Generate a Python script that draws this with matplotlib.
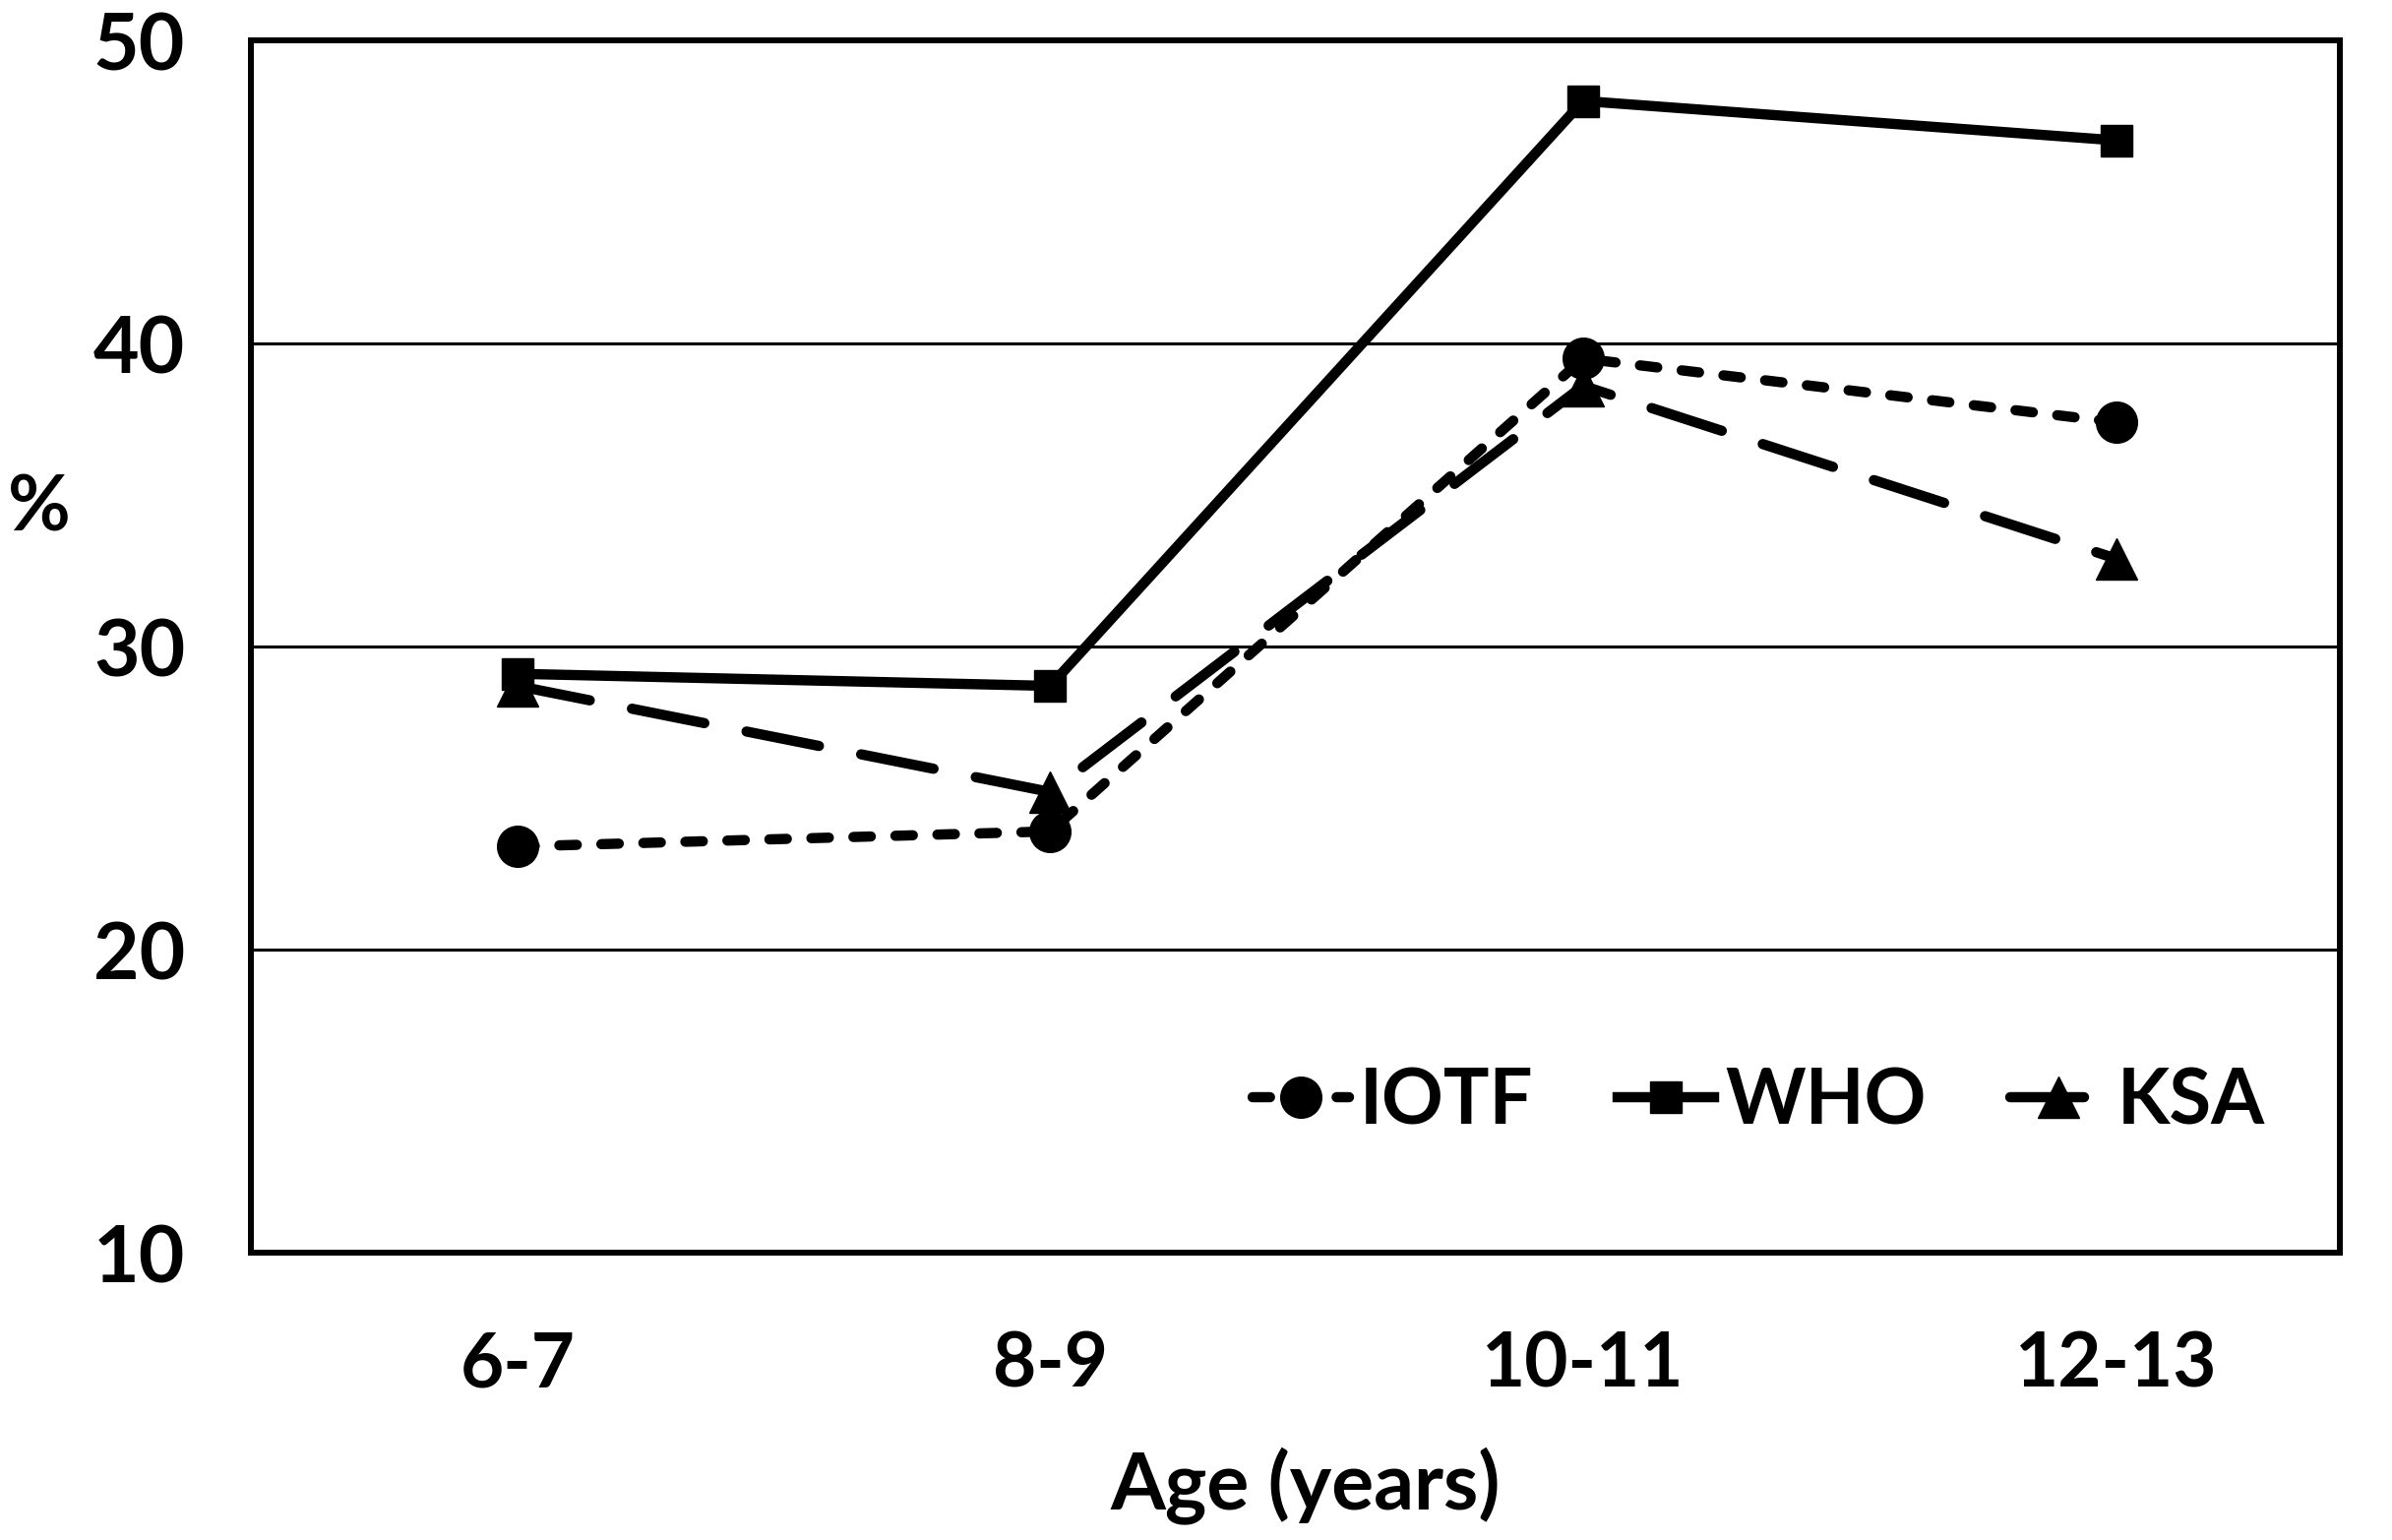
import matplotlib
matplotlib.use("Agg")
import matplotlib.pyplot as plt

categories = ["6-7", "8-9", "10-11", "12-13"]
iotf = [23.4, 23.9, 39.5, 37.4]
who = [29.1, 28.7, 48.0, 46.7]
ksa = [28.7, 25.2, 38.6, 32.9]
yticks = [10, 20, 30, 40, 50]

plt.rcParams['font.family'] = ['Lato', 'DejaVu Sans']
plt.rcParams['font.weight'] = 'bold'

W, H = 2431, 1565
fig = plt.figure(figsize=(W / 100, H / 100), dpi=100)
ax = fig.add_axes([255 / W, 1 - 1273 / H, (2378 - 255) / W, (1273 - 41) / H])

x = list(range(len(categories)))
lw = 7.5
ax.plot(x, iotf, color='black', lw=lw, linestyle=(0, (1.7, 2.4)), marker='o', markersize=30,
        label='IOTF', dash_capstyle='round', zorder=3)
ax.plot(x, who, color='black', lw=lw, linestyle='-', marker='s', markersize=23,
        label='WHO', zorder=3)
ax.plot(x, ksa, color='black', lw=lw, linestyle=(0, (7.2, 4.2)), marker='^', markersize=30,
        label='KSA', dash_capstyle='round', zorder=3)

ax.set_xlim(-0.5, 3.42)
ax.set_ylim(10, 50)
ax.set_yticks(yticks)
ax.set_xticks(x)
ax.set_xticklabels(categories)
for v in [20, 30, 40]:
    ax.axhline(v, color='black', lw=2.2, zorder=1)

ax.tick_params(axis='both', length=0)
ax.tick_params(axis='y', pad=48, labelsize=58)
ax.tick_params(axis='x', pad=57, labelsize=55)
for lab in ax.get_xticklabels() + ax.get_yticklabels():
    lab.set_fontweight('bold')
for s in ax.spines.values():
    s.set_linewidth(4.3)

ax.set_xlabel('Age (years)', fontsize=58, fontweight='bold', va='baseline')
ax.xaxis.set_label_coords(0.505, -(1533 - 1273) / (1273 - 41))
fig.text(40 / W, 1 - 517 / H, '%', fontsize=56, fontweight='bold', ha='center', va='center')

ax.legend(loc='center', bbox_to_anchor=(0.722, 0.124), ncol=3, frameon=False,
          handlelength=1.25, handletextpad=0.15, columnspacing=1.1,
          prop={'weight': 'bold', 'size': 56})

fig.savefig('out.png', dpi=100)
